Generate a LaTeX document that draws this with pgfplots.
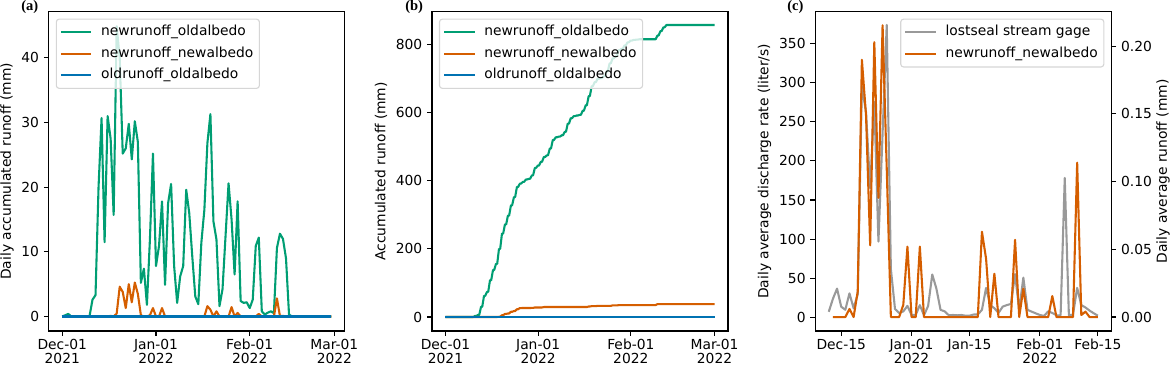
\documentclass[border=0pt]{standalone}
\usepackage{fontspec}
\setmainfont{DejaVu Sans}
\newfontfamily\panelfont{Liberation Serif}
\usepackage{pgfplots}
\usepackage{pgfplotstable}
\pgfplotsset{compat=1.18}
\definecolor{cgreen}{RGB}{0,158,115}
\definecolor{corange}{RGB}{213,94,0}
\definecolor{cblue}{RGB}{0,114,178}
\definecolor{cgray}{RGB}{153,153,153}
\definecolor{legframe}{RGB}{214,214,214}

\pgfplotstableread{
d v
0 0
1 0.2
2 0.4
3 0
9 0
10 2.6
11 3.3
12 20
13 30.7
14 11.5
15 31
16 27.5
17 15.7
18 44.9
19 40
20 25.2
21 26
22 29.8
23 24.3
24 30.2
25 27
26 5.2
27 7.4
28 1.8
29 12
30 25.2
31 7.8
32 10.9
33 17.8
34 4.9
35 17.5
36 20.5
37 7.8
38 2.1
39 6.2
40 7.8
41 19.6
42 16
43 9.3
44 3.1
45 1.9
46 11.4
47 16.5
48 26.8
49 31.3
50 14.7
51 11.9
52 1.6
53 4.2
54 12.4
55 20.6
56 15
57 6.5
58 17.8
59 2.4
60 2.1
61 2.2
62 1.3
63 2.6
64 10.9
65 12.2
66 0.8
67 0.3
68 0.6
69 0.8
70 0.5
71 10.6
72 12.8
73 12
74 9
75 0.3
76 0
89 0
}\greenA

\pgfplotstableread{
d v
0 0
15 0
16 0.1
17 0
18 0.45
19 4.6
20 3.8
21 1.3
22 5.0
23 2.2
24 5.25
25 3.5
26 0.2
27 0
28 0
29 0.2
30 1.3
31 0
32 0
33 1.3
34 0
47 0
48 1.6
49 1.05
50 0
51 0.8
52 0
55 0
56 1.45
57 0
58 0.55
59 0
64 0
65 0.4
66 0
70 0
71 2.8
72 0.05
73 0.1
74 0
89 0
}\orangeA

\pgfplotstableread{
d v
0 0
9.3 0
9.9 3
10.3 3
10.9 6
11.3 6
11.9 30
12.3 30
12.9 62
13.3 62
13.9 74
14.3 74
14.9 108
15.3 108
15.9 138
16.3 138
16.9 156
17.3 156
17.9 200
18.3 200
18.9 245
19.3 245
19.9 272
20.3 272
20.9 298
21.3 298
21.9 328
22.3 328
22.9 352
23.3 352
23.9 382
24.3 382
24.9 392
25.3 392
25.9 397
26.3 397
26.9 404
27.3 404
27.9 406
28.3 406
28.9 416
29.3 416
29.9 438
30.3 438
30.9 445
31.3 445
31.9 456
32.3 456
32.9 470
33.3 470
33.9 475
34.3 475
34.9 495
35.3 495
35.9 520
36.3 520
36.9 528
37.3 528
37.9 530
38.3 530
38.9 534
39.3 534
39.9 544
40.3 544
40.9 568
41.3 568
41.9 584
42.3 584
42.9 590
43.3 590
43.9 592
44.3 592
44.9 594
45.3 594
45.9 606
46.3 606
46.9 622
47.3 622
47.9 649
48.3 649
48.9 678
49.3 678
49.9 690
50.3 690
50.9 700
51.3 700
51.9 702
52.3 702
52.9 707
53.3 707
53.9 722
54.3 722
54.9 745
55.3 745
55.9 760
56.3 760
56.9 766
57.3 766
57.9 784
58.3 784
58.9 788
59.3 788
59.9 798
60.3 798
60.9 807
61.3 807
61.9 812
62.3 812
62.9 814
63.3 814
63.9 815
64.3 815
64.9 816
70.3 816
70.9 827
71.3 827
71.9 840
72.3 840
72.9 851
73.3 851
73.9 858
90 858
}\greenB

\pgfplotstableread{
d v
0 0
17.3 0
17.9 0.55
18.3 0.55
18.9 5.15
19.3 5.15
19.9 8.95
20.3 8.95
20.9 10.25
21.3 10.25
21.9 15.25
22.3 15.25
22.9 17.45
23.3 17.45
23.9 22.7
24.3 22.7
24.9 26.2
25.3 26.2
25.9 26.4
28.3 26.4
28.9 26.6
29.3 26.6
29.9 27.9
32.3 27.9
32.9 29.2
47.3 29.2
47.9 30.8
48.3 30.8
48.9 31.85
50.3 31.85
50.9 32.65
55.3 32.65
55.9 34.1
57.3 34.1
57.9 34.65
64.3 34.65
64.9 35.05
70.3 35.05
70.9 37.85
71.3 37.85
71.9 37.9
72.3 37.9
72.9 38.0
90 38.0
}\orangeB

\pgfplotstableread{
d v
11 7.5
12 24
13 37
14 14
15 10
16 31
17 12
18 30
19 295
20 262
21 165
22 275
23 97
24 235
25 373
26 62
27 11
28 6
29 8
30 15
31 3.4
32 3.4
33 16
34 3
35 15
36 55
37 37
38 10
39 8
40 3
41 3.4
42 3
43 3.4
44 2.5
45 2.5
46 4
47 4
48 10
49 38
50 16
51 12
52 6
53 14
54 16
55 17.5
56 55.5
57 10
58 51
59 10
60 7.7
61 5.5
62 3.4
63 2.2
64 8
65 6
66 3
67 3
68 178
69 3
70 4
71 38
72 16
73 13
74 9
75 5.6
76 2.5
}\grayC

\pgfplotstableread{
d v
12 0
15 0
16 0.006
17 0
18 0.019
19 0.190
20 0.149
21 0.053
22 0.203
23 0.088
24 0.2155
25 0.11
26 0
28 0
29 0.009
30 0.052
31 0
32 0
33 0.052
34 0
47 0
48 0.063
49 0.043
50 0
51 0.032
52 0
55 0
56 0.057
57 0
58 0.021
59 0
64 0
65 0.0155
66 0
70 0
71 0.114
72 0.0015
73 0.004
74 0
76 0
}\orangeC

\pgfplotsset{
  myaxis/.style={
    scale only axis, width=213.12bp, height=229.9bp,
    anchor=south west,
    font=\fontsize{10}{11.5}\selectfont,
    /pgf/number format/assume math mode=true,
    tick align=outside,
    major tick length=3.5bp,
    every tick/.style={line width=0.8bp, black},
    axis line style={line width=0.8bp},
    xtick pos=left, ytick pos=left,
    xticklabel style={align=center, yshift=1.2bp, font=\fontsize{10}{10.1}\selectfont},
    legend cell align=left,
    legend image code/.code={\draw[##1] (0bp,0bp) -- (22bp,0bp);},
    legend style={draw=legframe, line width=0.8bp, rounded corners=2bp,
      fill=white, fill opacity=0.8, text opacity=1,
      at={(0.0235,0.9783)}, anchor=north west,
      inner xsep=2.5bp, inner ysep=1.8bp, row sep=0pt, column sep=4.5bp,
      font=\fontsize{10}{12}\selectfont,
      nodes={inner xsep=1.8bp, inner ysep=2.7bp, text height=7.6bp, text depth=2.4bp}},
    every axis plot/.append style={line width=1.5bp, line join=round},
  }
}

\begin{document}
\begin{tikzpicture}
\path[use as bounding box] (0,0) rectangle (842.4bp,264.96bp);

% (a)
\begin{axis}[myaxis, at={(35.14bp,26.64bp)},
  xmin=-4.45, xmax=93.45, ymin=-2.245, ymax=47.145,
  xtick={0,31,62,90},
  xticklabels={{Dec-01\\2021},{Jan-01\\2022},{Feb-01\\2022},{Mar-01\\2022}},
  ytick={0,10,20,30,40},
  ylabel={Daily accumulated runoff (mm)},
  ylabel style={at={(axis description cs:-0.1412,0.5)}, anchor=center},
]
\addplot[cgreen] table[x=d,y=v] {\greenA};
\addlegendentry{newrunoff\_oldalbedo}
\addplot[corange] table[x=d,y=v] {\orangeA};
\addlegendentry{newrunoff\_newalbedo}
\addplot[cblue] coordinates {(0,0) (89,0)};
\addlegendentry{oldrunoff\_oldalbedo}
\end{axis}

% (b)
\begin{axis}[myaxis, at={(311.04bp,26.64bp)},
  xmin=-4.5, xmax=94.5, ymin=-41.2, ymax=897,
  xtick={0,31,62,90},
  xticklabels={{Dec-01\\2021},{Jan-01\\2022},{Feb-01\\2022},{Mar-01\\2022}},
  ytick={0,200,400,600,800},
  ylabel={Accumulated runoff (mm)},
  ylabel style={at={(axis description cs:-0.1723,0.5)}, anchor=center},
]
\addplot[cgreen] table[x=d,y=v] {\greenB};
\addlegendentry{newrunoff\_oldalbedo}
\addplot[corange] table[x=d,y=v] {\orangeB};
\addlegendentry{newrunoff\_newalbedo}
\addplot[cblue] coordinates {(0,0) (90,0)};
\addlegendentry{oldrunoff\_oldalbedo}
\end{axis}

% (c) left
\begin{axis}[myaxis, at={(587.02bp,26.64bp)},
  xmin=7.75, xmax=79.25, ymin=-17, ymax=390,
  xtick={14,31,45,62,76},
  xticklabels={Dec-15,{Jan-01\\2022},Jan-15,{Feb-01\\2022},Feb-15},
  ytick={0,50,100,150,200,250,300,350},
  ylabel={Daily average discharge rate (liter/s)},
  ylabel style={at={(axis description cs:-0.1716,0.5)}, anchor=center},
]
\addplot[cgray] table[x=d,y=v] {\grayC};
\end{axis}

% (c) right
\begin{axis}[myaxis, at={(587.02bp,26.64bp)},
  xmin=7.75, xmax=79.25, ymin=-0.0103, ymax=0.2255,
  axis x line=none, axis y line*=right, ytick pos=right,
  ytick={0,0.05,0.10,0.15,0.20},
  yticklabels={0.00,0.05,0.10,0.15,0.20},
  ylabel={Daily average runoff (mm)},
  ylabel style={at={(axis description cs:1.1747,0.5)}, anchor=center},
  legend style={at={(0.9765,0.9783)}, anchor=north east},
]
\addlegendimage{cgray, line width=1.5bp}
\addlegendentry{lostseal stream gage}
\addplot[corange] table[x=d,y=v] {\orangeC};
\addlegendentry{newrunoff\_newalbedo}
\end{axis}

\node[anchor=base west, inner sep=0pt, font=\panelfont\bfseries\fontsize{10.5}{12}\selectfont] at (15.12bp,257.4bp) {(a)};
\node[anchor=base west, inner sep=0pt, font=\panelfont\bfseries\fontsize{10.5}{12}\selectfont] at (291.6bp,257.4bp) {(b)};
\node[anchor=base west, inner sep=0pt, font=\panelfont\bfseries\fontsize{10.5}{12}\selectfont] at (566.64bp,257.4bp) {(c)};
\end{tikzpicture}
\end{document}
